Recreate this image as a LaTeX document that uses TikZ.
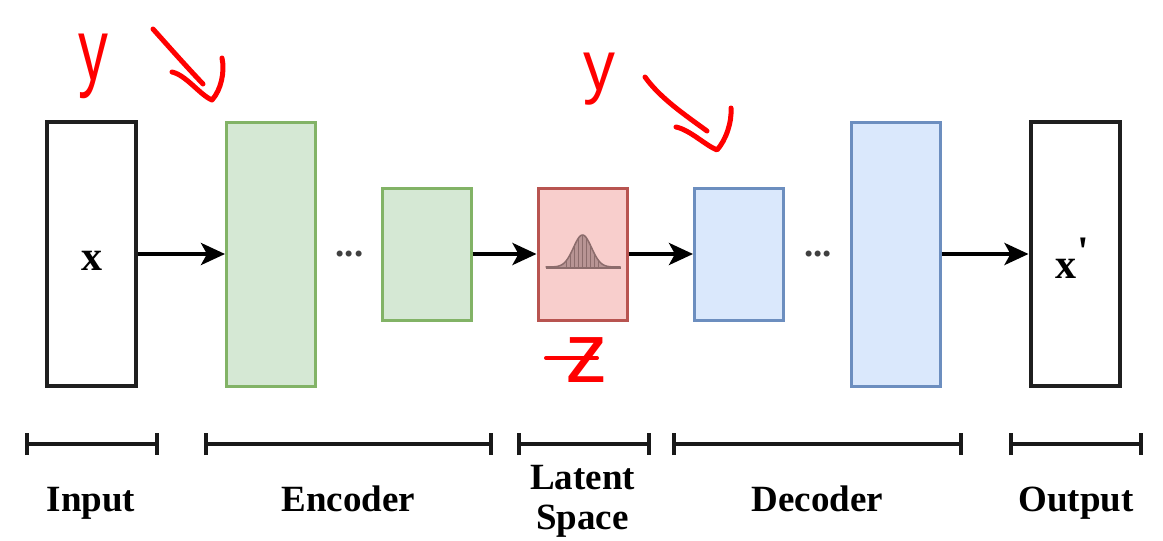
\documentclass[tikz,border=0pt]{standalone}
\usepackage{fontspec}
\setmainfont{Liberation Serif}
\newfontfamily\handfont{Liberation Sans}
\usetikzlibrary{arrows.meta}
\definecolor{encfill}{HTML}{D5E8D4}
\definecolor{encdraw}{HTML}{82B366}
\definecolor{latfill}{HTML}{F8CECC}
\definecolor{latdraw}{HTML}{B85450}
\definecolor{decfill}{HTML}{DAE8FC}
\definecolor{decdraw}{HTML}{6C8EBF}
\definecolor{bellfill}{HTML}{B89494}
\definecolor{bellline}{HTML}{8C6C6C}
\definecolor{inkred}{HTML}{FF0000}
\begin{document}
\begin{tikzpicture}[x=1pt,y=-1pt,
  plainbox/.style={draw=black!88, line width=4pt, fill=white, minimum width=89pt, minimum height=264pt, inner sep=0pt},
  layerbox/.style={line width=3pt, minimum width=89pt, inner sep=0pt},
  tall/.style={minimum height=264pt},
  short/.style={minimum height=132pt},
  enc/.style={layerbox, draw=encdraw, fill=encfill},
  lat/.style={layerbox, draw=latdraw, fill=latfill},
  dec/.style={layerbox, draw=decdraw, fill=decfill},
  flow/.style={line width=4pt, draw=black, -{Stealth[length=24pt,width=22pt,inset=6pt]}},
  span/.style={line width=4pt, draw=black!90, {Bar[width=22pt]}-{Bar[width=22pt]}},
  lab/.style={font=\bfseries\fontsize{37}{40}\selectfont, align=center, inner sep=0pt},
  var/.style={font=\bfseries\fontsize{42}{44}\selectfont, inner sep=0pt, anchor=base},
  dots/.style={font=\bfseries\fontsize{37}{40}\selectfont, text=black!75, inner sep=0pt, anchor=base},
  ink/.style={draw=inkred, line width=5pt, line cap=round, line join=round},
  hand/.style={text=inkred, inner sep=0pt, anchor=base}]
\useasboundingbox (0,0) rectangle (1163,541);

% boxes
\node[plainbox] (in) at (91.5,254) {};
\node[enc, tall] (e1) at (271,254) {};
\node[enc, short] (e2) at (426.5,254) {};
\node[lat, short] (z) at (582.5,254) {};
\node[dec, short] (d1) at (739,254) {};
\node[dec, tall] (d2) at (895.5,254) {};
\node[plainbox] (out) at (1075,254) {};

% texts in boxes
\node[var] (xin) at (91.5,270) {x};
\node[var] (xout) at (1072,278) {x\hspace{1pt}\raisebox{13pt}{\textquotesingle}};
\node[dots] (dotsE) at (349.5,256) {...};
\node[dots] (dotsD) at (818,256) {...};

% gaussian in latent box
\begin{scope}[shift={(z.center)}]
  \fill[bellfill] plot[domain=-37:38,samples=90] (\x,{13-32*exp(-(\x)*(\x)/162)}) -- cycle;
  \begin{scope}
    \clip plot[domain=-37:38,samples=90] (\x,{13-32*exp(-(\x)*(\x)/162)}) -- cycle;
    \foreach \i in {-16,-12,...,16} \draw[bellline, line width=1.2pt] (\i,14) -- (\i,-22);
  \end{scope}
  \draw[bellline, line width=1.5pt] plot[domain=-37:38,samples=90] (\x,{13-32*exp(-(\x)*(\x)/162)});
  \draw[bellline, line width=2pt] (-37,13.5) -- (38,13.5);
\end{scope}

% flow arrows
\draw[flow] (in) -- (e1);
\draw[flow] (e2) -- (z);
\draw[flow] (z) -- (d1);
\draw[flow] (d2) -- (out);

% spans
\coordinate (s1a) at (25,444);  \coordinate (s1b) at (159,444);
\coordinate (s2a) at (204,444); \coordinate (s2b) at (493,444);
\coordinate (s3a) at (517,444); \coordinate (s3b) at (651,444);
\coordinate (s4a) at (672,444); \coordinate (s4b) at (963,444);
\coordinate (s5a) at (1009,444); \coordinate (s5b) at (1143,444);
\draw[span] (s1a) -- (s1b);
\draw[span] (s2a) -- (s2b);
\draw[span] (s3a) -- (s3b);
\draw[span] (s4a) -- (s4b);
\draw[span] (s5a) -- (s5b);

% labels
\node[lab, anchor=base] (linput) at (91,511) {Input};
\node[lab, anchor=base] (lenc) at (348.5,511) {Encoder};
\node[lab, anchor=north] (llat) at (582.5,465) {Latent\\Space};
\node[lab, anchor=base] (ldec) at (817.5,511) {Decoder};
\node[lab, anchor=base] (lout) at (1076,511) {Output};

% handwritten annotations
\node[hand, font=\handfont\fontsize{88}{90}\selectfont] (y1) at (93,80) {\scalebox{0.68}[1]{y}};
\node[hand, font=\handfont\fontsize{71}{72}\selectfont] (y2) at (599,90) {\scalebox{0.9}[1]{y}};
\node[hand, font=\handfont\fontsize{85}{86}\selectfont] (zz) at (587,382) {z};
\draw[ink] (153,29) .. controls (170,48) and (185,65) .. (203,84);
\draw[ink] (172,72) .. controls (186,75) and (200,95) .. (212,100) .. controls (221,90) and (225,72) .. (222,58);
\draw[ink] (645,77) .. controls (660,98) and (685,115) .. (707,131);
\draw[ink] (676,127) .. controls (690,130) and (705,145) .. (717,150) .. controls (726,140) and (732,122) .. (731,108);
\draw[ink, line width=4pt] (546,358) -- (597,358);
\end{tikzpicture}
\end{document}
